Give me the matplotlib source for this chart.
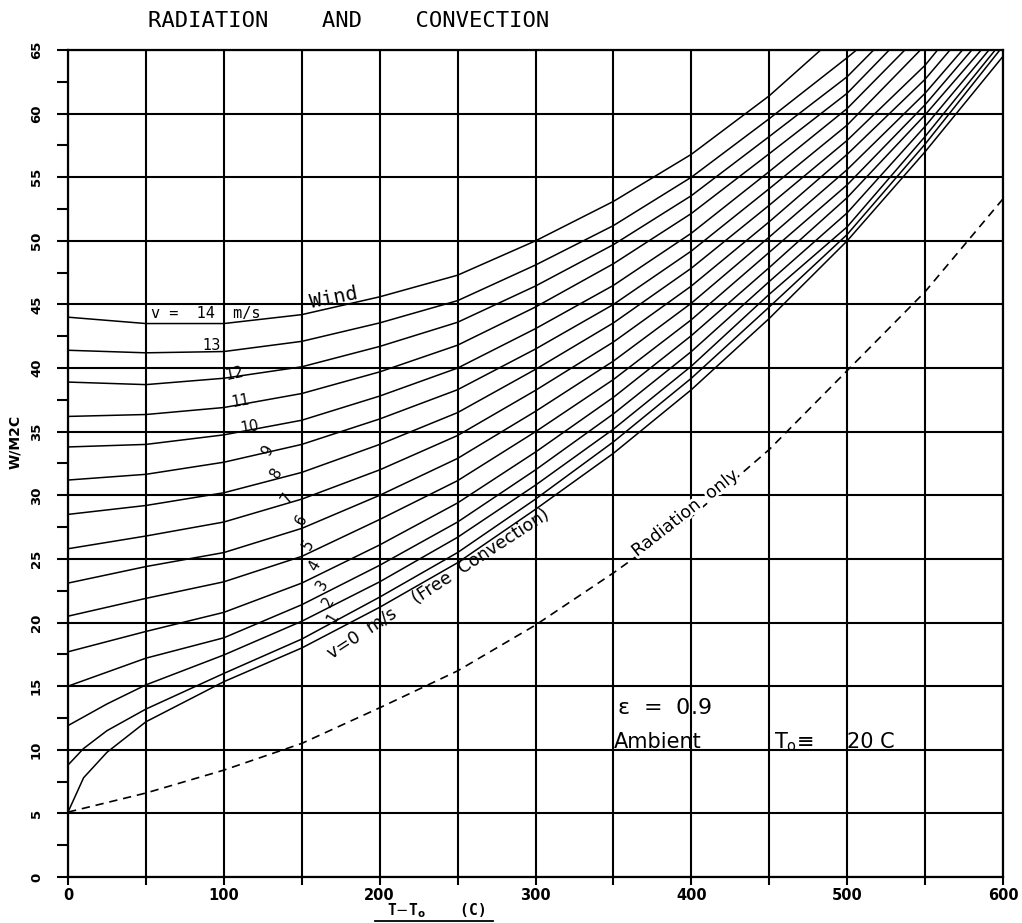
import numpy as np
import matplotlib.pyplot as plt
import matplotlib.patheffects as pe
from matplotlib.ticker import MultipleLocator

nan = np.nan

# temperature difference T - To (C) where the curves were read
dT = [0, 10, 25, 50, 100, 150, 200, 250, 300, 350, 400, 450, 500, 550, 600]

# wind speeds (m/s) and total coefficient W/M2C
wind = [0, 1, 2, 3, 4, 5, 6, 7, 8, 9, 10, 11, 12, 13, 14]
h_wind = [
    [5.1, 7.8, 9.8, 12.2, 15.35, 18.0, 21.2, 24.7, 28.9, 33.3, 38.3, 43.9, 50.0, 57.0, 64.5],
    [8.8, 10.1, 11.5, 13.2, 16.0, 18.7, 22.0, 25.5, 29.7, 34.2, 39.2, 44.8, 50.5, 57.6, nan],
    [11.9, nan, 13.6, 15.1, 17.45, 20.1, 23.2, 26.7, 30.8, 35.2, 40.15, 45.8, 51.1, 58.2, nan],
    [15.0, nan, nan, 17.2, 18.8, 21.4, 24.5, 27.9, 32.0, 36.4, 41.3, 46.8, 52.2, 59.0, nan],
    [17.7, nan, nan, 19.3, 20.8, 23.1, 26.1, 29.4, 33.4, 37.7, 42.55, 47.9, 53.4, 59.9, nan],
    [20.5, nan, nan, 21.9, 23.2, 25.2, 28.1, 31.15, 35.0, 39.1, 43.8, 49.1, 54.4, 60.7, nan],
    [23.1, nan, nan, 24.4, 25.5, 27.4, 30.0, 32.9, 36.6, 40.55, 45.1, 50.3, 55.6, 61.6, nan],
    [25.8, nan, nan, 26.8, 27.9, 29.7, 32.0, 34.7, 38.25, 42.05, 46.45, 51.5, 56.8, 62.7, nan],
    [28.5, nan, nan, 29.2, 30.2, 31.8, 34.0, 36.5, 39.9, 43.55, 47.85, 52.8, 57.9, 63.8, nan],
    [31.2, nan, nan, 31.65, 32.6, 34.0, 36.0, 38.3, 41.5, 45.0, 49.2, 54.1, 59.1, nan, nan],
    [33.8, nan, nan, 34.0, 34.75, 35.9, 37.8, 40.0, 43.1, 46.5, 50.6, 55.45, 60.4, nan, nan],
    [36.2, nan, nan, 36.35, 36.9, 38.0, 39.7, 41.8, 44.8, 48.2, 52.15, 56.85, 61.6, nan, nan],
    [38.9, nan, nan, 38.7, 39.2, 40.1, 41.7, 43.6, 46.45, 49.7, 53.55, 58.2, 62.9, nan, nan],
    [41.4, nan, nan, 41.2, 41.3, 42.1, 43.55, 45.3, 48.1, 51.2, 55.0, 59.6, 64.4, nan, nan],
    [44.0, nan, nan, 43.5, 43.5, 44.2, 45.6, 47.3, 50.0, 53.1, 56.8, 61.4, nan, nan, nan],
]
# where each curve runs out of the top of the chart (h = 65)
top_dT = [None, 598, 595, 591, 586, 580, 574, 566, 558, 547, 537, 527, 517, 506, 483]

# radiation only (dashed)
rad_dT = [0, 50, 100, 150, 200, 250, 300, 350, 400, 450, 500, 550, 600]
rad_h = [5.1, 6.6, 8.4, 10.5, 13.3, 16.2, 19.8, 23.9, 28.3, 33.6, 39.8, 46.0, 53.3]

# curve number labels: text, x, y, rotation
num_text = ['13', '12', '11', '10', '9', '8', '7', '6', '5', '4', '3', '2', '1']
num_x = [92, 107, 111, 117, 128, 134, 140.5, 150, 154, 158.5, 163, 167, 170]
num_y = [41.8, 39.6, 37.4, 35.4, 33.5, 31.8, 29.8, 28.1, 26.1, 24.5, 23.0, 21.6, 20.4]
num_rot = [0, 12, 10, 10, 60, 60, 60, 60, 60, 60, 60, 60, 60]

fig = plt.figure(figsize=(10.22, 9.23), dpi=100)
ax = fig.add_axes([68 / 1022, 46 / 923, 935 / 1022, 827 / 923])

x_all = np.array(dT, dtype=float)
for v, h, xe in zip(wind, h_wind, top_dT):
    h = np.array(h, dtype=float)
    ok = np.isfinite(h)
    xs, ys = list(x_all[ok]), list(h[ok])
    if xe is not None:
        xs.append(xe)
        ys.append(65)
    ax.plot(xs, ys, color='black', lw=1.1, solid_capstyle='round')

ax.plot(rad_dT, rad_h, color='black', lw=1.2, dashes=(5, 3.5))

ax.set_xlim(0, 600)
ax.set_ylim(0, 65)
ax.set_xticks(range(0, 601, 50))
ax.set_xticklabels([str(t) if t % 100 == 0 else '' for t in range(0, 601, 50)],
                   fontsize=10.5, fontweight='bold', family='DejaVu Sans')
ax.set_yticks(range(0, 66, 5))
ax.set_yticklabels([str(t) for t in range(0, 66, 5)], rotation=90, va='center',
                   fontsize=9.5, fontweight='bold')
ax.yaxis.set_minor_locator(MultipleLocator(2.5))
ax.grid(True, which='major', color='black', lw=1.5)
ax.set_axisbelow(True)
for s in ax.spines.values():
    s.set_linewidth(1.6)
ax.tick_params(axis='y', which='both', length=8, width=1.5, pad=10)
ax.tick_params(axis='x', which='major', length=6, width=1.5, pad=2)

# title and axis labels
fig.text(148 / 1022, 1 - 21 / 923, 'RADIATION    AND    CONVECTION',
         family='DejaVu Sans Mono', fontsize=16, ha='left', va='center')
ax.text(-0.057, 34.2, 'W/M2C', transform=ax.get_yaxis_transform(), rotation=90,
        ha='center', va='center', fontsize=10, fontweight='bold')
ax.text(236, -0.041, r'T$-$T$_\mathbf{o}$    (C)', transform=ax.get_xaxis_transform(),
        ha='center', va='center', fontsize=10.5, fontweight='bold', family='DejaVu Sans Mono')
ax.plot([197, 273], [-0.053, -0.053], transform=ax.get_xaxis_transform(),
        color='black', lw=1.3, clip_on=False)

# curve labels
ax.text(53, 44.3, 'v =  14  m/s', family='DejaVu Sans Mono', fontsize=11,
        ha='left', va='center')
ax.text(154, 45.5, 'Wind', family='DejaVu Sans Mono', fontsize=14.5,
        ha='left', va='center', rotation=11)
for t, x, y, r in zip(num_text, num_x, num_y, num_rot):
    ax.text(x, y, t, fontsize=10.5, ha='center', va='center', rotation=r)
ax.text(238, 23.0, 'v=0  m/s    (Free  Convection)', fontsize=12.5, rotation=33,
        ha='center', va='center', rotation_mode='anchor')
ax.text(396, 28.6, 'Radiation  only', fontsize=12.5, rotation=38,
        ha='center', va='center', rotation_mode='anchor',
        path_effects=[pe.withStroke(linewidth=4, foreground='white')])

# emissivity / ambient note
ax.text(352, 13.3, r'$\mathregular{\varepsilon}$  =  0.9', fontsize=16,
        ha='left', va='center')
ax.text(350, 10.6, 'Ambient', fontsize=15, ha='left', va='center')
ax.text(453, 10.6, r'T$_\mathregular{o}$≡', fontsize=15, ha='left', va='center')
ax.text(500, 10.6, '20 C', fontsize=15, ha='left', va='center')

fig.savefig('out.png', dpi=100)
